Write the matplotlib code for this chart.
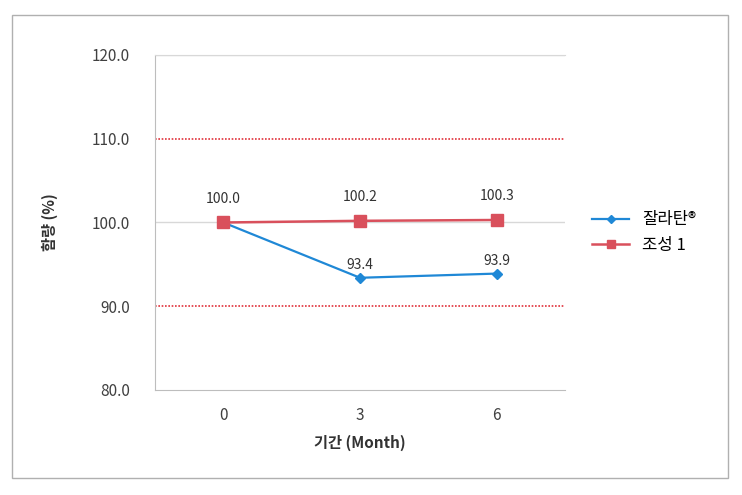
import matplotlib.pyplot as plt
from matplotlib.patches import Rectangle

plt.rcParams['font.family'] = ['Noto Sans CJK KR', 'DejaVu Sans']

months = ['0', '3', '6']
zalatan = [100.0, 93.4, 93.9]
comp1 = [100.0, 100.2, 100.3]
yticks = [80.0, 90.0, 100.0, 110.0, 120.0]

W, H = 742, 495
fig = plt.figure(figsize=(W / 100, H / 100), dpi=100)
ax = fig.add_axes([155 / W, 1 - 390 / H, 410 / W, 335 / H])

# outer frame of the chart
fig.patches.append(Rectangle((12 / W, 1 - 478 / H), 716 / W, 463 / H,
                             transform=fig.transFigure, fill=False,
                             edgecolor='#b0b0b0', lw=1))

x = range(len(months))
ax.plot(x, zalatan, color='#1f88d6', lw=1.6, marker='D', ms=5,
        label='잘라탄®', zorder=3)
ax.plot(x, comp1, color='#d9505c', lw=1.8, marker='s', ms=8,
        label='조성 1', zorder=3)

for i, v in enumerate(comp1):
    ax.annotate(f'{v:.1f}', (i, v), xytext=(0, 12), textcoords='offset points',
                ha='center', va='bottom', fontsize=10, color='#333333')
for i, v in enumerate(zalatan[1:], start=1):
    ax.annotate(f'{v:.1f}', (i, v), xytext=(0, 4), textcoords='offset points',
                ha='center', va='bottom', fontsize=10, color='#333333')

ax.set_xlim(-0.5, 2.5)
ax.set_ylim(80, 120)
ax.set_xticks(list(x))
ax.set_xticklabels(months)
ax.set_yticks(yticks)
ax.set_yticklabels([f'{t:.1f}' for t in yticks])
ax.tick_params(length=0, labelsize=11, labelcolor='#404040', pad=18)
ax.tick_params(axis='x', pad=12)

for t in yticks:
    if t in (90.0, 110.0):
        ax.axhline(t, color='#e0303a', lw=1.2, ls=(0, (1, 1)), zorder=1)
    elif t != 80.0:
        ax.axhline(t, color='#d8d8d8', lw=1, zorder=1)

ax.spines['right'].set_visible(False)
ax.spines['top'].set_color('#d8d8d8')
for s in ['left', 'bottom']:
    ax.spines[s].set_color('#bdbdbd')

ax.set_xlabel('기간 (Month)', fontsize=11, fontweight='bold', color='#333333',
              labelpad=8)
ax.set_ylabel('함량 (%)', fontsize=11, fontweight='bold', color='#333333',
              labelpad=24)

ax.legend(loc='center left', bbox_to_anchor=(1.03, 0.47), frameon=False,
          fontsize=12, handlelength=2.2, labelspacing=0.5, markerscale=0.8)

plt.savefig('out.png', dpi=100)
